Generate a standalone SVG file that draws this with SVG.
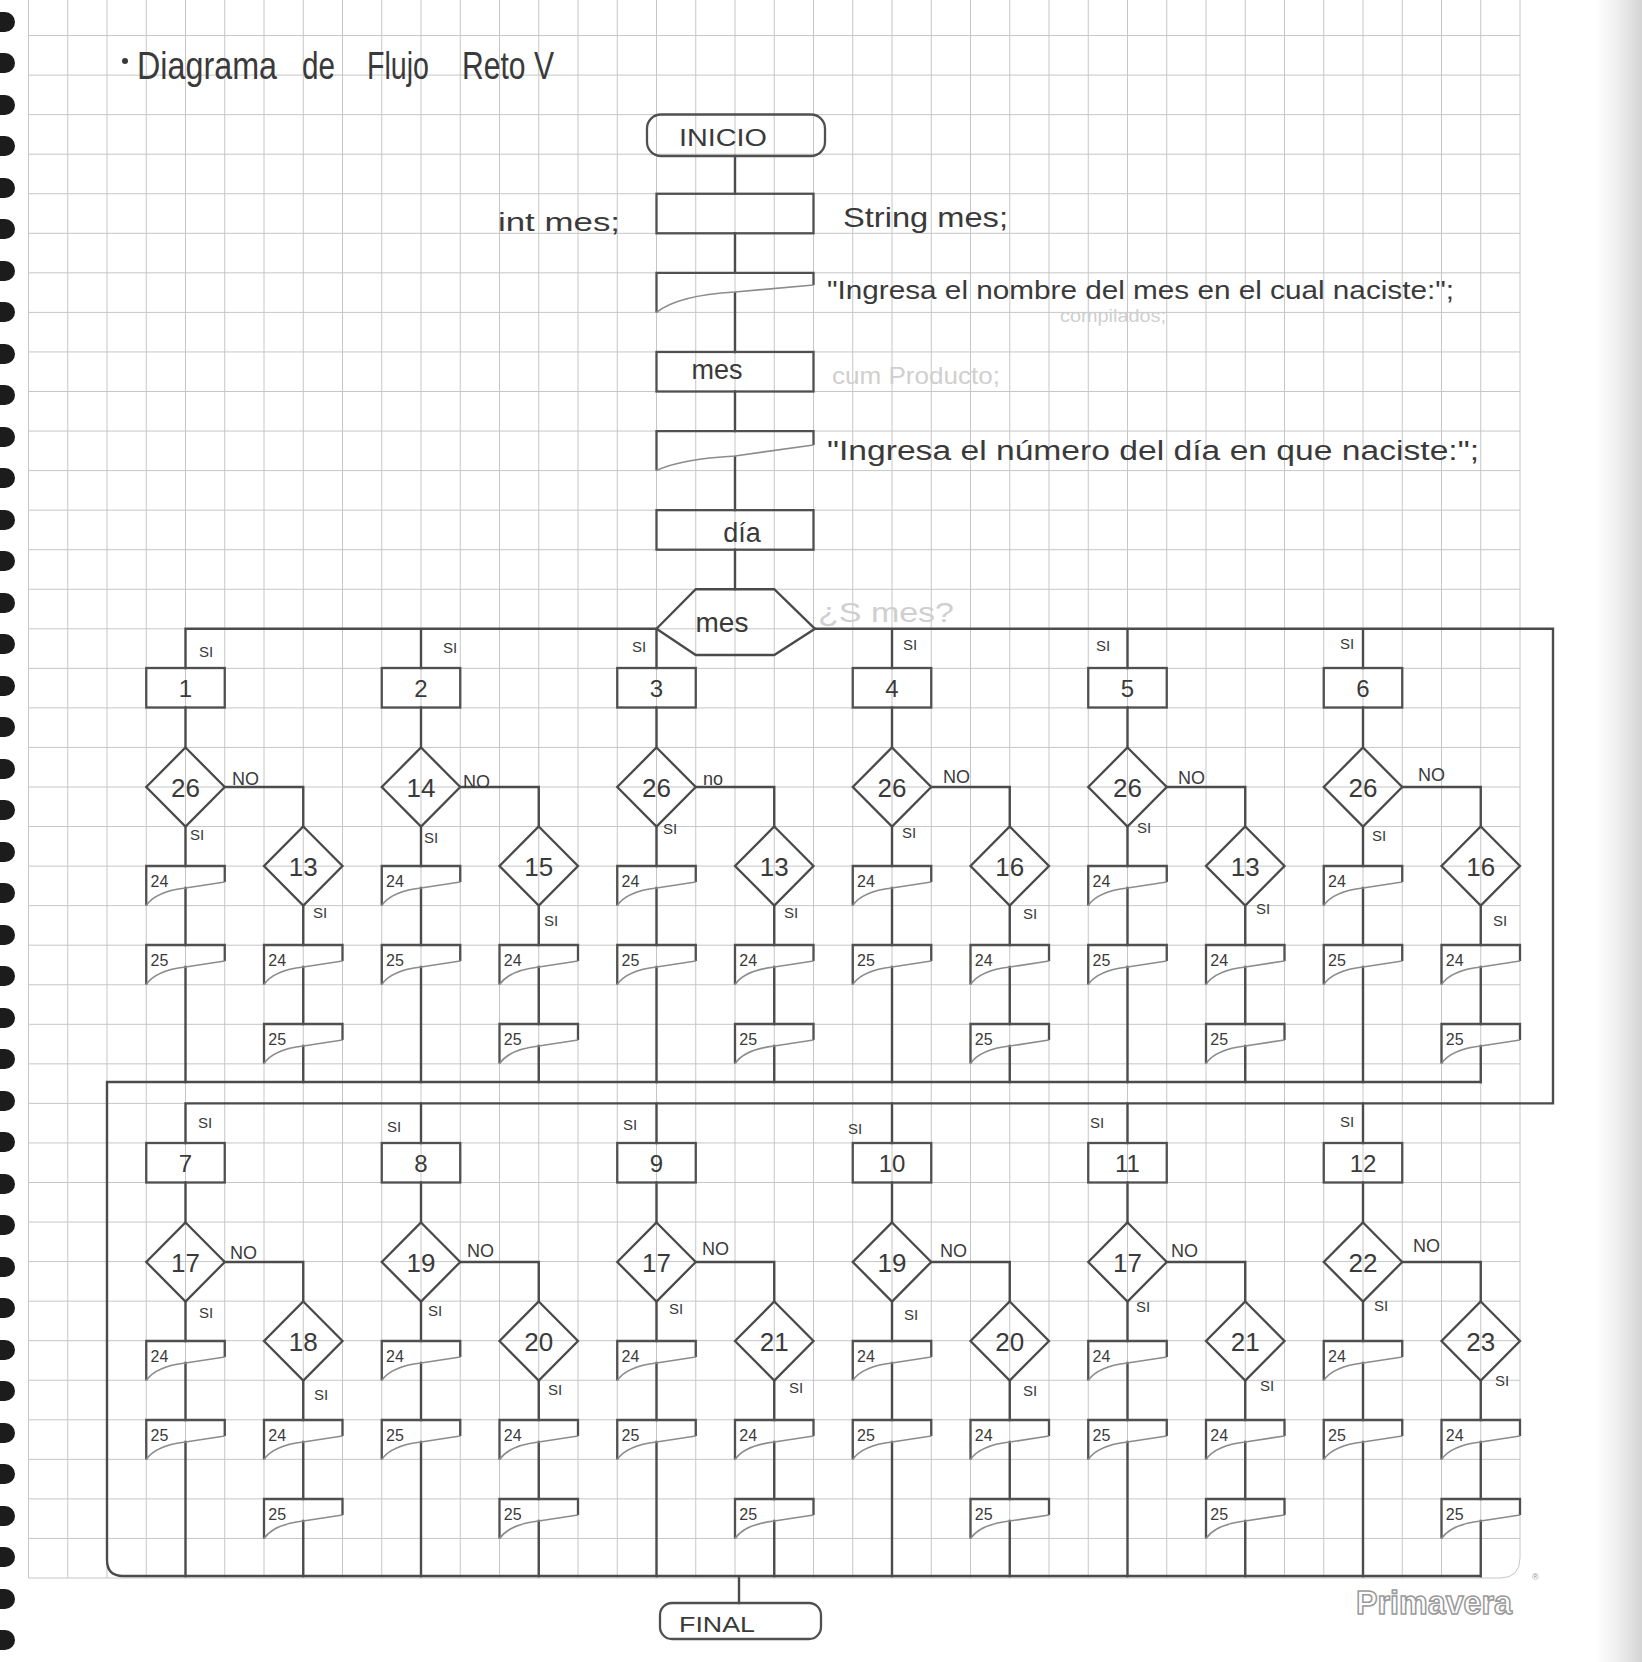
<svg xmlns="http://www.w3.org/2000/svg" xmlns:xlink="http://www.w3.org/1999/xlink" width="1642" height="1662" viewBox="0 0 1642 1662">
<style>
.g{stroke:#c6c6c6;stroke-width:1;fill:none}
.p{stroke:#4b4b4b;stroke-width:2.4;fill:none;stroke-linecap:square}
.bx{fill:none;stroke:#505050;stroke-width:2.3}
.dm{fill:none;stroke:#4a4a4a;stroke-width:2.3}
.de{fill:none;stroke:#505050;stroke-width:2.3}
.wv{fill:none;stroke:#8c8c8c;stroke-width:1.7}
text{font-family:"Liberation Sans",Arial,sans-serif;fill:#3a3a3a}
.num{font-size:24px;text-anchor:middle}
.dn{font-size:26px;text-anchor:middle}
.dl{font-size:16px}
.si{font-size:15px}
.no{font-size:18px}
.tt{font-size:38px}
.ghost{fill:#cfcfcf}
.logo{fill:#ffffff;stroke:#9a9a9a;stroke-width:1.6;font-weight:bold;font-size:34px}
.reg{fill:#999999;font-size:9px}
</style>
<defs>
<rect id="box" class="bx" x="-39.25" y="0" width="78.5" height="39.5"/>
<path id="dia" class="dm" d="M0,-39.5 L39.25,0 L0,39.5 L-39.25,0 Z"/>
<g id="doc"><path class="de" d="M-39.25,39.5 V0 H39.25 V16"/><path class="wv" d="M-39.25,39.5 C-32,29 -18,24 0,22 L39.25,16"/></g>
<linearGradient id="edge" x1="0" x2="1" y1="0" y2="0"><stop offset="0" stop-color="#ffffff"/><stop offset="0.5" stop-color="#eeeeee"/><stop offset="1" stop-color="#d4d4d4"/></linearGradient>
</defs>
<rect width="1642" height="1662" fill="#ffffff"/>
<rect x="1595" y="0" width="47" height="1662" fill="url(#edge)"/>
<g id="grid">
<path class="g" d="M28.5,0V1578M67.75,0V1578M107,0V1578M146.25,0V1578M185.5,0V1578M224.75,0V1578M264,0V1578M303.25,0V1578M342.5,0V1578M381.75,0V1578M421,0V1578M460.25,0V1578M499.5,0V1578M538.75,0V1578M578,0V1578M617.25,0V1578M656.5,0V1578M695.75,0V1578M735,0V1578M774.25,0V1578M813.5,0V1578M852.75,0V1578M892,0V1578M931.25,0V1578M970.5,0V1578M1009.75,0V1578M1049,0V1578M1088.25,0V1578M1127.5,0V1578M1166.75,0V1578M1206,0V1578M1245.25,0V1578M1284.5,0V1578M1323.75,0V1578M1363,0V1578M1402.25,0V1578M1441.5,0V1578M1480.75,0V1578M1520,0V1558"/>
<path class="g" d="M28.5,35.55H1520M28.5,75.1H1520M28.5,114.65H1520M28.5,154.2H1520M28.5,193.75H1520M28.5,233.3H1520M28.5,272.85H1520M28.5,312.4H1520M28.5,351.95H1520M28.5,391.5H1520M28.5,431.05H1520M28.5,470.6H1520M28.5,510.15H1520M28.5,549.7H1520M28.5,589.25H1520M28.5,628.8H1520M28.5,668.35H1520M28.5,707.9H1520M28.5,747.45H1520M28.5,787H1520M28.5,826.55H1520M28.5,866.1H1520M28.5,905.65H1520M28.5,945.2H1520M28.5,984.75H1520M28.5,1024.3H1520M28.5,1063.85H1520M28.5,1103.4H1520M28.5,1142.95H1520M28.5,1182.5H1520M28.5,1222.05H1520M28.5,1261.6H1520M28.5,1301.15H1520M28.5,1340.7H1520M28.5,1380.25H1520M28.5,1419.8H1520M28.5,1459.35H1520M28.5,1498.9H1520M28.5,1538.45H1520M28.5,1578H1500Q1520,1578 1520,1558"/>
</g>
<g id="binding" fill="#1c1c1c">
<rect x="-10" y="12" width="25" height="20" rx="10"/><rect x="-10" y="53" width="25" height="20" rx="10"/><rect x="-10" y="95" width="25" height="20" rx="10"/><rect x="-10" y="136" width="25" height="20" rx="10"/><rect x="-10" y="178" width="25" height="20" rx="10"/><rect x="-10" y="219" width="25" height="20" rx="10"/><rect x="-10" y="261" width="25" height="20" rx="10"/><rect x="-10" y="302" width="25" height="20" rx="10"/><rect x="-10" y="344" width="25" height="20" rx="10"/><rect x="-10" y="385" width="25" height="20" rx="10"/><rect x="-10" y="427" width="25" height="20" rx="10"/><rect x="-10" y="468" width="25" height="20" rx="10"/><rect x="-10" y="510" width="25" height="20" rx="10"/><rect x="-10" y="551" width="25" height="20" rx="10"/><rect x="-10" y="593" width="25" height="20" rx="10"/><rect x="-10" y="634" width="25" height="20" rx="10"/><rect x="-10" y="676" width="25" height="20" rx="10"/><rect x="-10" y="717" width="25" height="20" rx="10"/><rect x="-10" y="759" width="25" height="20" rx="10"/><rect x="-10" y="800" width="25" height="20" rx="10"/><rect x="-10" y="842" width="25" height="20" rx="10"/><rect x="-10" y="883" width="25" height="20" rx="10"/><rect x="-10" y="925" width="25" height="20" rx="10"/><rect x="-10" y="966" width="25" height="20" rx="10"/><rect x="-10" y="1008" width="25" height="20" rx="10"/><rect x="-10" y="1049" width="25" height="20" rx="10"/><rect x="-10" y="1091" width="25" height="20" rx="10"/><rect x="-10" y="1132" width="25" height="20" rx="10"/><rect x="-10" y="1174" width="25" height="20" rx="10"/><rect x="-10" y="1215" width="25" height="20" rx="10"/><rect x="-10" y="1257" width="25" height="20" rx="10"/><rect x="-10" y="1298" width="25" height="20" rx="10"/><rect x="-10" y="1340" width="25" height="20" rx="10"/><rect x="-10" y="1381" width="25" height="20" rx="10"/><rect x="-10" y="1423" width="25" height="20" rx="10"/><rect x="-10" y="1464" width="25" height="20" rx="10"/><rect x="-10" y="1506" width="25" height="20" rx="10"/><rect x="-10" y="1547" width="25" height="20" rx="10"/><rect x="-10" y="1589" width="25" height="20" rx="10"/><rect x="-10" y="1630" width="25" height="20" rx="10"/>
</g>
<g id="title">
<circle cx="125" cy="61" r="3" fill="#3a3a3a"/>
<text class="tt" x="137" y="79" textLength="140" lengthAdjust="spacingAndGlyphs">Diagrama</text>
<text class="tt" x="302" y="79" textLength="33" lengthAdjust="spacingAndGlyphs">de</text>
<text class="tt" x="367" y="79" textLength="62" lengthAdjust="spacingAndGlyphs">Flujo</text>
<text class="tt" x="462" y="79" textLength="92" lengthAdjust="spacingAndGlyphs">Reto V</text>
</g>
<g id="ghosts">
<text class="ghost" x="1060" y="322" font-size="18" textLength="106" lengthAdjust="spacingAndGlyphs">compilados;</text>
<text class="ghost" x="832" y="384" font-size="24" textLength="168" lengthAdjust="spacingAndGlyphs">cum Producto;</text>
<text class="ghost" x="818" y="622" font-size="28" textLength="136" lengthAdjust="spacingAndGlyphs">¿S mes?</text>
</g>
<g id="connectors">
<path class="p" d="M735,156V193.75M735,233.3V272.85M735,293V352M735,391.5V431M735,457V510M735,549.7V589.25"/>
<path class="p" d="M185.5,668V628.8H656.5V668M421,628.8V668M815,628.8H1553V1103.4H185.5V1143M892,628.8V668M1127.5,628.8V668M1363,628.8V668"/>
<path class="p" d="M421,1103.4V1143M656.5,1103.4V1143M892,1103.4V1143M1127.5,1103.4V1143M1363,1103.4V1143"/>
<path class="p" d="M107,1082H1480.75M107,1082V1560Q107,1576 123,1576H1480.75M739,1576V1603"/>
<path class="p" d="M185.5,707.5V747.5M185.5,826.5V866M185.5,888V945M185.5,967V1082M224.75,787H303.25V826.5M303.25,905.5V945M303.25,967V1024M303.25,1046V1082"/>
<path class="p" d="M421,707.5V747.5M421,826.5V866M421,888V945M421,967V1082M460.25,787H538.75V826.5M538.75,905.5V945M538.75,967V1024M538.75,1046V1082"/>
<path class="p" d="M656.5,707.5V747.5M656.5,826.5V866M656.5,888V945M656.5,967V1082M695.75,787H774.25V826.5M774.25,905.5V945M774.25,967V1024M774.25,1046V1082"/>
<path class="p" d="M892,707.5V747.5M892,826.5V866M892,888V945M892,967V1082M931.25,787H1009.75V826.5M1009.75,905.5V945M1009.75,967V1024M1009.75,1046V1082"/>
<path class="p" d="M1127.5,707.5V747.5M1127.5,826.5V866M1127.5,888V945M1127.5,967V1082M1166.75,787H1245.25V826.5M1245.25,905.5V945M1245.25,967V1024M1245.25,1046V1082"/>
<path class="p" d="M1363,707.5V747.5M1363,826.5V866M1363,888V945M1363,967V1082M1402.25,787H1480.75V826.5M1480.75,905.5V945M1480.75,967V1024M1480.75,1046V1082"/>
<path class="p" d="M185.5,1182.5V1222.5M185.5,1301.5V1341M185.5,1363V1420M185.5,1442V1576M224.75,1262H303.25V1301.5M303.25,1380.5V1420M303.25,1442V1499M303.25,1521V1576"/>
<path class="p" d="M421,1182.5V1222.5M421,1301.5V1341M421,1363V1420M421,1442V1576M460.25,1262H538.75V1301.5M538.75,1380.5V1420M538.75,1442V1499M538.75,1521V1576"/>
<path class="p" d="M656.5,1182.5V1222.5M656.5,1301.5V1341M656.5,1363V1420M656.5,1442V1576M695.75,1262H774.25V1301.5M774.25,1380.5V1420M774.25,1442V1499M774.25,1521V1576"/>
<path class="p" d="M892,1182.5V1222.5M892,1301.5V1341M892,1363V1420M892,1442V1576M931.25,1262H1009.75V1301.5M1009.75,1380.5V1420M1009.75,1442V1499M1009.75,1521V1576"/>
<path class="p" d="M1127.5,1182.5V1222.5M1127.5,1301.5V1341M1127.5,1363V1420M1127.5,1442V1576M1166.75,1262H1245.25V1301.5M1245.25,1380.5V1420M1245.25,1442V1499M1245.25,1521V1576"/>
<path class="p" d="M1363,1182.5V1222.5M1363,1301.5V1341M1363,1363V1420M1363,1442V1576M1402.25,1262H1480.75V1301.5M1480.75,1380.5V1420M1480.75,1442V1499M1480.75,1521V1576"/>
<g id="edge-labels">
<text class="si" x="199" y="657">SI</text><text class="si" x="443" y="653">SI</text><text class="si" x="632" y="652">SI</text><text class="si" x="903" y="650">SI</text><text class="si" x="1096" y="651">SI</text><text class="si" x="1340" y="649">SI</text>
<text class="si" x="190" y="840">SI</text><text class="si" x="424" y="843">SI</text><text class="si" x="663" y="834">SI</text><text class="si" x="902" y="838">SI</text><text class="si" x="1137" y="833">SI</text><text class="si" x="1372" y="841">SI</text>
<text class="si" x="313" y="918">SI</text><text class="si" x="544" y="926">SI</text><text class="si" x="784" y="918">SI</text><text class="si" x="1023" y="919">SI</text><text class="si" x="1256" y="914">SI</text><text class="si" x="1493" y="926">SI</text>
<text class="no" x="232" y="785">NO</text><text class="no" x="463" y="788">NO</text><text class="no" x="703" y="785">no</text><text class="no" x="943" y="783">NO</text><text class="no" x="1178" y="784">NO</text><text class="no" x="1418" y="781">NO</text>
<text class="si" x="198" y="1128">SI</text><text class="si" x="387" y="1132">SI</text><text class="si" x="623" y="1130">SI</text><text class="si" x="848" y="1134">SI</text><text class="si" x="1090" y="1128">SI</text><text class="si" x="1340" y="1127">SI</text>
<text class="si" x="199" y="1318">SI</text><text class="si" x="428" y="1316">SI</text><text class="si" x="669" y="1314">SI</text><text class="si" x="904" y="1320">SI</text><text class="si" x="1136" y="1312">SI</text><text class="si" x="1374" y="1311">SI</text>
<text class="si" x="314" y="1400">SI</text><text class="si" x="548" y="1395">SI</text><text class="si" x="789" y="1393">SI</text><text class="si" x="1023" y="1396">SI</text><text class="si" x="1260" y="1391">SI</text><text class="si" x="1495" y="1386">SI</text>
<text class="no" x="230" y="1259">NO</text><text class="no" x="467" y="1257">NO</text><text class="no" x="702" y="1255">NO</text><text class="no" x="940" y="1257">NO</text><text class="no" x="1171" y="1257">NO</text><text class="no" x="1413" y="1252">NO</text>
</g>
</g>
<g id="inicio"><rect class="bx" x="647" y="114.5" width="178" height="41.5" rx="14"/><text x="679" y="146" font-size="24" textLength="88" lengthAdjust="spacingAndGlyphs">INICIO</text></g>
<g id="declaracion"><rect class="bx" x="656.5" y="193.75" width="157" height="39.55"/><text x="498" y="231" font-size="26" textLength="122" lengthAdjust="spacingAndGlyphs">int mes;</text><text x="843" y="227" font-size="28" textLength="165" lengthAdjust="spacingAndGlyphs">String mes;</text></g>
<g id="salida1"><path class="de" d="M656.5,312.4V272.85H813.5V285"/><path class="wv" d="M656.5,312.4C672,300 700,294 735,292L813.5,285"/><text x="827" y="299" font-size="26" textLength="627" lengthAdjust="spacingAndGlyphs">"Ingresa el nombre del mes en el cual naciste:";</text></g>
<g id="entrada-mes"><rect class="bx" x="656.5" y="351.95" width="157" height="39.55"/><text x="717" y="379" font-size="27" text-anchor="middle">mes</text></g>
<g id="salida2"><path class="de" d="M656.5,470.6V431.05H813.5V445"/><path class="wv" d="M656.5,470.6C674,462 700,458 735,456L813.5,445"/><text x="827" y="460" font-size="27" textLength="652" lengthAdjust="spacingAndGlyphs">"Ingresa el número del día en que naciste:";</text></g>
<g id="entrada-dia"><rect class="bx" x="656.5" y="510.15" width="157" height="39.55"/><text x="742" y="542" font-size="27" text-anchor="middle">día</text></g>
<g id="switch-mes"><path class="dm" d="M695.75,589.25H774.25L815,628.8L774.25,655H695.75L656.5,628.8Z"/><text x="722" y="632" font-size="28" text-anchor="middle">mes</text></g>
<g id="c1-box" transform="translate(185.5,668)"><use href="#box"/><text class="num" y="29">1</text></g>
<g id="c2-box" transform="translate(421,668)"><use href="#box"/><text class="num" y="29">2</text></g>
<g id="c3-box" transform="translate(656.5,668)"><use href="#box"/><text class="num" y="29">3</text></g>
<g id="c4-box" transform="translate(892,668)"><use href="#box"/><text class="num" y="29">4</text></g>
<g id="c5-box" transform="translate(1127.5,668)"><use href="#box"/><text class="num" y="29">5</text></g>
<g id="c6-box" transform="translate(1363,668)"><use href="#box"/><text class="num" y="29">6</text></g>
<g id="c1-dA" transform="translate(185.5,787)"><use href="#dia"/><text class="dn" y="10">26</text></g>
<g id="c2-dA" transform="translate(421,787)"><use href="#dia"/><text class="dn" y="10">14</text></g>
<g id="c3-dA" transform="translate(656.5,787)"><use href="#dia"/><text class="dn" y="10">26</text></g>
<g id="c4-dA" transform="translate(892,787)"><use href="#dia"/><text class="dn" y="10">26</text></g>
<g id="c5-dA" transform="translate(1127.5,787)"><use href="#dia"/><text class="dn" y="10">26</text></g>
<g id="c6-dA" transform="translate(1363,787)"><use href="#dia"/><text class="dn" y="10">26</text></g>
<g id="c1-dB" transform="translate(303.25,866)"><use href="#dia"/><text class="dn" y="10">13</text></g>
<g id="c2-dB" transform="translate(538.75,866)"><use href="#dia"/><text class="dn" y="10">15</text></g>
<g id="c3-dB" transform="translate(774.25,866)"><use href="#dia"/><text class="dn" y="10">13</text></g>
<g id="c4-dB" transform="translate(1009.75,866)"><use href="#dia"/><text class="dn" y="10">16</text></g>
<g id="c5-dB" transform="translate(1245.25,866)"><use href="#dia"/><text class="dn" y="10">13</text></g>
<g id="c6-dB" transform="translate(1480.75,866)"><use href="#dia"/><text class="dn" y="10">16</text></g>
<g id="c1-a24" transform="translate(185.5,866)"><use href="#doc"/><text class="dl" x="-35" y="21">24</text></g>
<g id="c1-a25" transform="translate(185.5,945)"><use href="#doc"/><text class="dl" x="-35" y="21">25</text></g>
<g id="c1-b24" transform="translate(303.25,945)"><use href="#doc"/><text class="dl" x="-35" y="21">24</text></g>
<g id="c1-b25" transform="translate(303.25,1024)"><use href="#doc"/><text class="dl" x="-35" y="21">25</text></g>
<g id="c2-a24" transform="translate(421,866)"><use href="#doc"/><text class="dl" x="-35" y="21">24</text></g>
<g id="c2-a25" transform="translate(421,945)"><use href="#doc"/><text class="dl" x="-35" y="21">25</text></g>
<g id="c2-b24" transform="translate(538.75,945)"><use href="#doc"/><text class="dl" x="-35" y="21">24</text></g>
<g id="c2-b25" transform="translate(538.75,1024)"><use href="#doc"/><text class="dl" x="-35" y="21">25</text></g>
<g id="c3-a24" transform="translate(656.5,866)"><use href="#doc"/><text class="dl" x="-35" y="21">24</text></g>
<g id="c3-a25" transform="translate(656.5,945)"><use href="#doc"/><text class="dl" x="-35" y="21">25</text></g>
<g id="c3-b24" transform="translate(774.25,945)"><use href="#doc"/><text class="dl" x="-35" y="21">24</text></g>
<g id="c3-b25" transform="translate(774.25,1024)"><use href="#doc"/><text class="dl" x="-35" y="21">25</text></g>
<g id="c4-a24" transform="translate(892,866)"><use href="#doc"/><text class="dl" x="-35" y="21">24</text></g>
<g id="c4-a25" transform="translate(892,945)"><use href="#doc"/><text class="dl" x="-35" y="21">25</text></g>
<g id="c4-b24" transform="translate(1009.75,945)"><use href="#doc"/><text class="dl" x="-35" y="21">24</text></g>
<g id="c4-b25" transform="translate(1009.75,1024)"><use href="#doc"/><text class="dl" x="-35" y="21">25</text></g>
<g id="c5-a24" transform="translate(1127.5,866)"><use href="#doc"/><text class="dl" x="-35" y="21">24</text></g>
<g id="c5-a25" transform="translate(1127.5,945)"><use href="#doc"/><text class="dl" x="-35" y="21">25</text></g>
<g id="c5-b24" transform="translate(1245.25,945)"><use href="#doc"/><text class="dl" x="-35" y="21">24</text></g>
<g id="c5-b25" transform="translate(1245.25,1024)"><use href="#doc"/><text class="dl" x="-35" y="21">25</text></g>
<g id="c6-a24" transform="translate(1363,866)"><use href="#doc"/><text class="dl" x="-35" y="21">24</text></g>
<g id="c6-a25" transform="translate(1363,945)"><use href="#doc"/><text class="dl" x="-35" y="21">25</text></g>
<g id="c6-b24" transform="translate(1480.75,945)"><use href="#doc"/><text class="dl" x="-35" y="21">24</text></g>
<g id="c6-b25" transform="translate(1480.75,1024)"><use href="#doc"/><text class="dl" x="-35" y="21">25</text></g>
<g id="c7-box" transform="translate(185.5,1143)"><use href="#box"/><text class="num" y="29">7</text></g>
<g id="c8-box" transform="translate(421,1143)"><use href="#box"/><text class="num" y="29">8</text></g>
<g id="c9-box" transform="translate(656.5,1143)"><use href="#box"/><text class="num" y="29">9</text></g>
<g id="c10-box" transform="translate(892,1143)"><use href="#box"/><text class="num" y="29">10</text></g>
<g id="c11-box" transform="translate(1127.5,1143)"><use href="#box"/><text class="num" y="29">11</text></g>
<g id="c12-box" transform="translate(1363,1143)"><use href="#box"/><text class="num" y="29">12</text></g>
<g id="c7-dA" transform="translate(185.5,1262)"><use href="#dia"/><text class="dn" y="10">17</text></g>
<g id="c8-dA" transform="translate(421,1262)"><use href="#dia"/><text class="dn" y="10">19</text></g>
<g id="c9-dA" transform="translate(656.5,1262)"><use href="#dia"/><text class="dn" y="10">17</text></g>
<g id="c10-dA" transform="translate(892,1262)"><use href="#dia"/><text class="dn" y="10">19</text></g>
<g id="c11-dA" transform="translate(1127.5,1262)"><use href="#dia"/><text class="dn" y="10">17</text></g>
<g id="c12-dA" transform="translate(1363,1262)"><use href="#dia"/><text class="dn" y="10">22</text></g>
<g id="c7-dB" transform="translate(303.25,1341)"><use href="#dia"/><text class="dn" y="10">18</text></g>
<g id="c8-dB" transform="translate(538.75,1341)"><use href="#dia"/><text class="dn" y="10">20</text></g>
<g id="c9-dB" transform="translate(774.25,1341)"><use href="#dia"/><text class="dn" y="10">21</text></g>
<g id="c10-dB" transform="translate(1009.75,1341)"><use href="#dia"/><text class="dn" y="10">20</text></g>
<g id="c11-dB" transform="translate(1245.25,1341)"><use href="#dia"/><text class="dn" y="10">21</text></g>
<g id="c12-dB" transform="translate(1480.75,1341)"><use href="#dia"/><text class="dn" y="10">23</text></g>
<g id="c7-a24" transform="translate(185.5,1341)"><use href="#doc"/><text class="dl" x="-35" y="21">24</text></g>
<g id="c7-a25" transform="translate(185.5,1420)"><use href="#doc"/><text class="dl" x="-35" y="21">25</text></g>
<g id="c7-b24" transform="translate(303.25,1420)"><use href="#doc"/><text class="dl" x="-35" y="21">24</text></g>
<g id="c7-b25" transform="translate(303.25,1499)"><use href="#doc"/><text class="dl" x="-35" y="21">25</text></g>
<g id="c8-a24" transform="translate(421,1341)"><use href="#doc"/><text class="dl" x="-35" y="21">24</text></g>
<g id="c8-a25" transform="translate(421,1420)"><use href="#doc"/><text class="dl" x="-35" y="21">25</text></g>
<g id="c8-b24" transform="translate(538.75,1420)"><use href="#doc"/><text class="dl" x="-35" y="21">24</text></g>
<g id="c8-b25" transform="translate(538.75,1499)"><use href="#doc"/><text class="dl" x="-35" y="21">25</text></g>
<g id="c9-a24" transform="translate(656.5,1341)"><use href="#doc"/><text class="dl" x="-35" y="21">24</text></g>
<g id="c9-a25" transform="translate(656.5,1420)"><use href="#doc"/><text class="dl" x="-35" y="21">25</text></g>
<g id="c9-b24" transform="translate(774.25,1420)"><use href="#doc"/><text class="dl" x="-35" y="21">24</text></g>
<g id="c9-b25" transform="translate(774.25,1499)"><use href="#doc"/><text class="dl" x="-35" y="21">25</text></g>
<g id="c10-a24" transform="translate(892,1341)"><use href="#doc"/><text class="dl" x="-35" y="21">24</text></g>
<g id="c10-a25" transform="translate(892,1420)"><use href="#doc"/><text class="dl" x="-35" y="21">25</text></g>
<g id="c10-b24" transform="translate(1009.75,1420)"><use href="#doc"/><text class="dl" x="-35" y="21">24</text></g>
<g id="c10-b25" transform="translate(1009.75,1499)"><use href="#doc"/><text class="dl" x="-35" y="21">25</text></g>
<g id="c11-a24" transform="translate(1127.5,1341)"><use href="#doc"/><text class="dl" x="-35" y="21">24</text></g>
<g id="c11-a25" transform="translate(1127.5,1420)"><use href="#doc"/><text class="dl" x="-35" y="21">25</text></g>
<g id="c11-b24" transform="translate(1245.25,1420)"><use href="#doc"/><text class="dl" x="-35" y="21">24</text></g>
<g id="c11-b25" transform="translate(1245.25,1499)"><use href="#doc"/><text class="dl" x="-35" y="21">25</text></g>
<g id="c12-a24" transform="translate(1363,1341)"><use href="#doc"/><text class="dl" x="-35" y="21">24</text></g>
<g id="c12-a25" transform="translate(1363,1420)"><use href="#doc"/><text class="dl" x="-35" y="21">25</text></g>
<g id="c12-b24" transform="translate(1480.75,1420)"><use href="#doc"/><text class="dl" x="-35" y="21">24</text></g>
<g id="c12-b25" transform="translate(1480.75,1499)"><use href="#doc"/><text class="dl" x="-35" y="21">25</text></g>
<g id="final"><rect class="bx" x="660" y="1603" width="161" height="36" rx="12"/><text x="679" y="1632" font-size="22" textLength="76" lengthAdjust="spacingAndGlyphs">FINAL</text></g>
<g id="logo"><text class="logo" x="1356" y="1614" textLength="156" lengthAdjust="spacingAndGlyphs">Primavera</text><text class="reg" x="1532" y="1580">®</text></g>
</svg>
